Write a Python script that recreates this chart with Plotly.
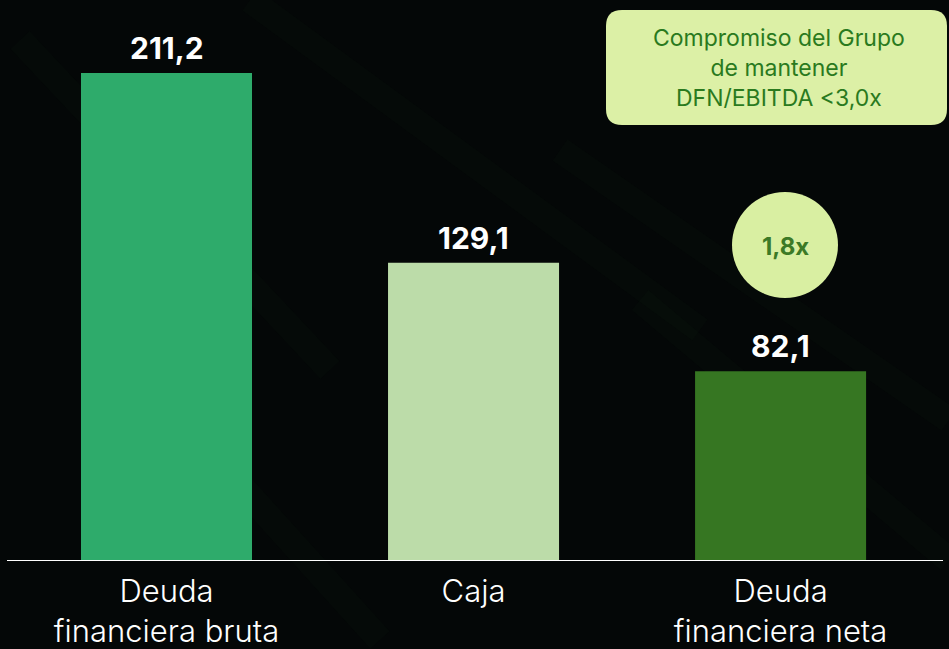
import plotly.graph_objects as go

categories = ["Deuda<br>financiera bruta", "Caja", "Deuda<br>financiera neta"]
values = [211.2, 129.1, 82.1]
value_labels = ["211,2", "129,1", "82,1"]
bar_colors = ["#2EAB6B", "#BCDCA9", "#367622"]
box_text = "Compromiso del Grupo<br>de mantener<br>DFN/EBITDA <3,0x"
ratio_text = "1,8x"

W, H = 949, 649
ML, MR, MT, MB = 7, 6, 0, 88
PW, PH = W - ML - MR, H - MT - MB


def px(x):
    return (x - ML) / PW


def py(y):
    return (H - MB - y) / PH


xs = list(range(len(categories)))
FONT = "Inter, Lato, sans-serif"

fig = go.Figure()
fig.add_trace(go.Bar(
    x=xs, y=values, marker=dict(color=bar_colors, line=dict(width=0)),
    width=0.557, hoverinfo="skip",
))

for x, v, t in zip(xs, values, value_labels):
    fig.add_annotation(x=x, y=v, text=f"<b>{t}</b>", showarrow=False,
                       xanchor="center", yanchor="bottom", yshift=5,
                       font=dict(family=FONT, size=30, color="white"))

# faint diagonal streaks in background
streaks = [(20, 40, 330, 370), (250, 0, 700, 330), (560, 150, 949, 420),
           (640, 300, 949, 560), (100, 330, 380, 640)]
for x0, y0, x1, y1 in streaks:
    fig.add_shape(type="line", xref="paper", yref="paper",
                  x0=px(x0), y0=py(y0), x1=px(x1), y1=py(y1),
                  line=dict(color="rgba(40,90,60,0.04)", width=26), layer="below")

# rounded box
bx0, bx1, by0, by1, r = 606, 947, 10, 125, 16
path = (f"M {px(bx0 + r)},{py(by0)} L {px(bx1 - r)},{py(by0)} "
        f"Q {px(bx1)},{py(by0)} {px(bx1)},{py(by0 + r)} "
        f"L {px(bx1)},{py(by1 - r)} Q {px(bx1)},{py(by1)} {px(bx1 - r)},{py(by1)} "
        f"L {px(bx0 + r)},{py(by1)} Q {px(bx0)},{py(by1)} {px(bx0)},{py(by1 - r)} "
        f"L {px(bx0)},{py(by0 + r)} Q {px(bx0)},{py(by0)} {px(bx0 + r)},{py(by0)} Z")
fig.add_shape(type="path", xref="paper", yref="paper", layer="above",
              path=path, fillcolor="#DCF0A6", line=dict(width=0))

fig.add_annotation(xref="paper", yref="paper", x=px(779), y=py(68), text=box_text,
                   showarrow=False, align="center", xanchor="center", yanchor="middle",
                   font=dict(family=FONT, size=23, color="#2A7A1E"))

# circle
fig.add_shape(type="circle", xref="paper", yref="paper",
              x0=px(732), x1=px(838), y0=py(298), y1=py(192),
              fillcolor="#D9EFA2", line=dict(width=0), layer="above")
fig.add_annotation(xref="paper", yref="paper", x=px(785), y=py(246), text=f"<b>{ratio_text}</b>",
                   showarrow=False, xanchor="center", yanchor="middle",
                   font=dict(family=FONT, size=24, color="#3C7A26"))

# baseline
fig.add_shape(type="line", xref="paper", yref="y", x0=0, x1=1, y0=0, y1=0,
              line=dict(color="white", width=2), layer="above")

fig.update_layout(
    width=W, height=H,
    margin=dict(l=ML, r=MR, t=MT, b=MB),
    paper_bgcolor="#040707", plot_bgcolor="rgba(0,0,0,0)",
    showlegend=False,
    xaxis=dict(range=[-0.5195, 2.529], tickmode="array", tickvals=xs, ticktext=categories,
               showgrid=False, zeroline=False, showline=False, ticks="",
               ticklabelstandoff=9, automargin=False,
               tickfont=dict(family=FONT, size=31, color="white", weight=300),
               fixedrange=True),
    yaxis=dict(range=[0, 242.8], visible=False, fixedrange=True, automargin=False),
)

fig.write_html("out.html", config={"displayModeBar": False},
               post_script="document.body.style.margin='0';document.body.style.background='#040707';")
